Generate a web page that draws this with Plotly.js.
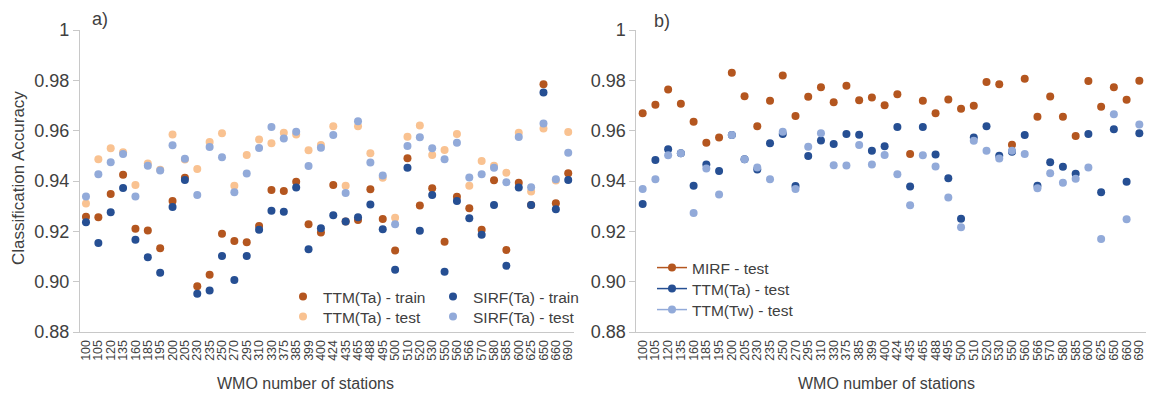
<!DOCTYPE html>
<html>
<head>
<meta charset="utf-8">
<script src="https://cdn.plot.ly/plotly-3.0.1.min.js"></script>
<style>html,body{margin:0;padding:0;background:#fff;}#chart{width:1155px;height:394px;}</style>
</head>
<body>
<div id="chart"></div>
<script>
// WMO station numbers (x categories, shared by both panels)
const stations = ['100','105','120','135','160','185','195','200','205','230','235','250','270','295','310','330','375','385','399','400','424','435','465','488','495','500','510','520','530','550','560','566','570','580','585','600','625','650','660','690'];

// y-axis ticks
const yTickVals = [0.88, 0.90, 0.92, 0.94, 0.96, 0.98, 1.0];
const yTickText = ['0.88', '0.90', '0.92', '0.94', '0.96', '0.98', '1'];

// Panel a)
const ttmTaTrain = [0.9258,0.9256,0.9348,0.9425,0.9210,0.9203,0.9133,0.9321,0.9413,0.8982,0.9027,0.9190,0.9162,0.9157,0.9221,0.9364,0.9360,0.9397,0.9228,0.9195,0.9384,0.9239,0.9245,0.9367,0.9249,0.9124,0.9490,0.9303,0.9371,0.9159,0.9337,0.9292,0.9206,0.9403,0.9126,0.9393,0.9305,0.9784,0.9312,0.9431];
const ttmTaTest  = [0.9311,0.9486,0.9530,0.9514,0.9384,0.9470,0.9445,0.9585,0.9485,0.9448,0.9555,0.9590,0.9381,0.9503,0.9565,0.9550,0.9592,0.9585,0.9522,0.9543,0.9618,0.9381,0.9618,0.9510,0.9413,0.9254,0.9576,0.9621,0.9503,0.9523,0.9587,0.9381,0.9479,0.9461,0.9433,0.9592,0.9358,0.9609,0.9402,0.9595];
const sirfTaTrain = [0.9236,0.9154,0.9276,0.9372,0.9167,0.9097,0.9035,0.9297,0.9404,0.8952,0.8965,0.9102,0.9007,0.9102,0.9206,0.9282,0.9278,0.9374,0.9129,0.9212,0.9264,0.9239,0.9256,0.9307,0.9208,0.9047,0.9453,0.9202,0.9344,0.9039,0.9321,0.9252,0.9186,0.9305,0.9063,0.9374,0.9305,0.9752,0.9288,0.9404];
const sirfTaTest  = [0.9338,0.9427,0.9475,0.9507,0.9338,0.9461,0.9442,0.9542,0.9488,0.9344,0.9535,0.9494,0.9355,0.9430,0.9531,0.9615,0.9569,0.9596,0.9460,0.9532,0.9583,0.9352,0.9637,0.9474,0.9422,0.9228,0.9539,0.9574,0.9530,0.9486,0.9552,0.9414,0.9427,0.9453,0.9395,0.9575,0.9375,0.9628,0.9407,0.9512];

// Panel b)
const mirfTest  = [0.9669,0.9703,0.9764,0.9707,0.9635,0.9552,0.9573,0.9830,0.9737,0.9618,0.9719,0.9819,0.9658,0.9735,0.9773,0.9713,0.9778,0.9721,0.9732,0.9701,0.9745,0.9507,0.9719,0.9669,0.9724,0.9687,0.9699,0.9793,0.9784,0.9544,0.9806,0.9655,0.9736,0.9655,0.9579,0.9797,0.9695,0.9773,0.9723,0.9798];
const ttmTaTestB = [0.9309,0.9483,0.9526,0.9510,0.9381,0.9466,0.9440,0.9583,0.9486,0.9446,0.9550,0.9587,0.9380,0.9499,0.9561,0.9547,0.9587,0.9584,0.9520,0.9538,0.9615,0.9378,0.9615,0.9505,0.9411,0.9250,0.9573,0.9618,0.9500,0.9516,0.9583,0.9381,0.9475,0.9457,0.9429,0.9587,0.9355,0.9606,0.9397,0.9590];
const ttmTwTest = [0.9368,0.9407,0.9502,0.9510,0.9273,0.9450,0.9346,0.9583,0.9486,0.9454,0.9407,0.9596,0.9368,0.9536,0.9590,0.9463,0.9462,0.9543,0.9466,0.9503,0.9427,0.9304,0.9502,0.9458,0.9334,0.9216,0.9560,0.9520,0.9489,0.9520,0.9507,0.9371,0.9431,0.9393,0.9409,0.9454,0.9170,0.9665,0.9248,0.9625];

const C_DARK_OR = '#b4561f';
const C_LIGHT_OR = '#f9c291';
const C_DARK_BL = '#264f93';
const C_LIGHT_BL = '#92aad9';
const FONT = 'Liberation Sans, Arial, sans-serif';
const TXT = '#404040';
const MS = 8;

function pts(y, color, name, xa, ya, legend, show) {
  return {type:'scatter', mode:'markers', x: stations, y: y, name: name,
    xaxis: xa, yaxis: ya, legend: legend, showlegend: show,
    marker: {color: color, size: MS}, hoverinfo: 'x+y+name'};
}
function legLine(color, name, legend) {
  return {type:'scatter', mode:'lines+markers', x:[null], y:[null], name:name,
    xaxis:'x2', yaxis:'y2', legend: legend, showlegend:true,
    line:{color:color, width:1.5}, marker:{color:color, size:MS}};
}

const traces = [
  pts(ttmTaTrain, C_DARK_OR, 'TTM(Ta) - train', 'x', 'y', 'legend', true),
  pts(ttmTaTest, C_LIGHT_OR, 'TTM(Ta) - test', 'x', 'y', 'legend2', true),
  pts(sirfTaTrain, C_DARK_BL, 'SIRF(Ta) - train', 'x', 'y', 'legend3', true),
  pts(sirfTaTest, C_LIGHT_BL, 'SIRF(Ta) - test', 'x', 'y', 'legend4', true),
  pts(mirfTest, C_DARK_OR, 'MIRF - test', 'x2', 'y2', 'legend5', false),
  pts(ttmTaTestB, C_DARK_BL, 'TTM(Ta) - test', 'x2', 'y2', 'legend6', false),
  pts(ttmTwTest, C_LIGHT_BL, 'TTM(Tw) - test', 'x2', 'y2', 'legend7', false),
  legLine(C_DARK_OR, 'MIRF - test', 'legend5'),
  legLine(C_DARK_BL, 'TTM(Ta) - test', 'legend6'),
  legLine(C_LIGHT_BL, 'TTM(Tw) - test', 'legend7')
];

const W = 1155, H = 394;
const yDom = [1 - 332/H, 1 - 30/H];
function xAxis(dom, anchor) {
  return {domain: dom, anchor: anchor, type:'category', range:[-0.5, stations.length - 0.5], autorange:false,
    showline:true, linecolor:'#c8c8c8', linewidth:1,
    showgrid:false, zeroline:false, ticks:'outside', ticklen:2, tickcolor:'rgba(0,0,0,0)',
    tickmode:'array', tickvals: stations, ticktext: stations,
    tickangle:-90, tickfont:{family:FONT, size:12.5, color:TXT}};
}
function yAxis(anchor) {
  return {domain: yDom, anchor: anchor, range:[0.88, 1], autorange:false, showline:true, linecolor:'#c8c8c8', linewidth:1,
    showgrid:false, zeroline:false, ticks:'outside', ticklen:6, tickcolor:'#c8c8c8',
    tickvals: yTickVals, ticktext: yTickText, tickfont:{family:FONT, size:18, color:TXT}};
}
function leg(xpx, ypx) {
  return {x: xpx/W, y: 1 - ypx/H, xanchor:'left', yanchor:'top', bgcolor:'rgba(0,0,0,0)',
    borderwidth:0, font:{family:FONT, size:15.5, color:TXT}, tracegroupgap:0};
}
function ann(text, xpx, ypx, size, angle) {
  return {text:text, xref:'paper', yref:'paper', x:xpx/W, y:1-ypx/H, showarrow:false,
    textangle:angle || 0, xanchor:'center', yanchor:'middle', font:{family:FONT, size:size, color:TXT}};
}

const layout = {
  width: W, height: H, margin:{l:0, r:0, t:0, b:0}, paper_bgcolor:'#fff', plot_bgcolor:'#fff',
  font:{family:FONT, color:TXT},
  xaxis: xAxis([79.8/W, 574.4/W], 'y'),
  yaxis: yAxis('x'),
  xaxis2: xAxis([636.3/W, 1145.7/W], 'y2'),
  yaxis2: yAxis('x2'),
  legend: leg(283, 280),
  legend2: leg(283, 300),
  legend3: leg(433, 280),
  legend4: leg(433, 300),
  legend5: leg(652, 251),
  legend6: leg(652, 272),
  legend7: leg(652, 293),
  annotations: [
    ann('a)', 100, 19, 18),
    ann('b)', 662, 21, 18),
    ann('Classification Accuracy', 18, 178, 17, -90),
    ann('WMO number of stations', 305, 383, 16),
    ann('WMO number of stations', 886, 383, 16)
  ],
  showlegend: true
};

Plotly.newPlot('chart', traces, layout, {displayModeBar:false, staticPlot:true});
</script>
</body>
</html>
